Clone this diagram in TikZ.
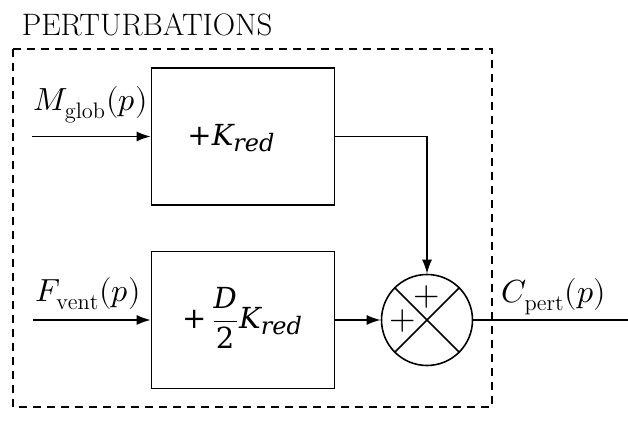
\documentclass[tikz,border=0pt]{standalone}
\usepackage{amsmath}
\usepackage{unicode-math}
\setmathfont{Latin Modern Math}
\newfontfamily\myblockfont{DejaVu Serif}
\newcommand{\myit}[1]{\text{\myblockfont\itshape #1}}
\newcommand{\myup}[1]{\text{\myblockfont\upshape #1}}
\newcommand{\mysubred}[1]{\text{\raisebox{-0.2em}{\fontsize{12}{14}\selectfont\myblockfont\itshape #1}}}
\usetikzlibrary{arrows.meta}
\begin{document}
\begin{tikzpicture}[x=0.5pt,y=-0.5pt,line width=0.8pt,
  blk/.style={draw,inner sep=0pt,minimum width=91.5pt,minimum height=68.5pt},
  sumc/.style={draw,circle,inner sep=0pt,minimum size=45.5pt},
  lbl/.style={anchor=base west,inner sep=0pt,font=\fontsize{16}{19}\selectfont},
  btxt/.style={inner sep=0pt,font=\fontsize{14.5}{17}\selectfont},
  sig/.style={-{Latex[length=7pt,width=5pt]}},
  dbox/.style={draw,dash pattern=on 4pt off 3pt,line width=0.8pt}]
\useasboundingbox (0,0) rectangle (628,421);
\node[lbl,font=\fontsize{15.5}{18}\selectfont] (title) at (21,36) {PERTURBATIONS};
\draw[dbox] (13,49) rectangle (492,407);
\node[blk] (b1) at (243,136.5) {};
\node[blk] (b2) at (243,320) {};
\node[btxt] (t1) at (231,138) {$\myup{+}\myit{K}\mysubred{red}$};
\node[btxt] (t2) at (242,318) {$\myup{+}\,\dfrac{\myit{D}}{\myup{2}}\myit{K}\mysubred{red}$};
\node[sumc] (s) at (427,320) {};
\draw (s.north west) -- (s.south east);
\draw (s.north east) -- (s.south west);
\node[inner sep=0pt,font=\fontsize{17}{20}\selectfont] (p1) at (427,297) {$+$};
\node[inner sep=0pt,font=\fontsize{17}{20}\selectfont] (p2) at (403,321) {$+$};
\coordinate (in1) at (32,136.5);
\coordinate (in2) at (33,320);
\coordinate (out) at (628,320);
\draw[sig] (in1) -- (b1.west);
\draw[sig] (in2) -- (b2.west);
\draw[sig] (b1.east) -| (s.north);
\draw[sig] (b2.east) -- (s.west);
\draw (s.east) -- (out);
\node[lbl] (m) at (33,111) {$M_{\mathrm{glob}}(p)$};
\node[lbl] (f) at (35,302) {$F_{\mathrm{vent}}(p)$};
\node[lbl] (c) at (501,303) {$C_{\mathrm{pert}}(p)$};
\end{tikzpicture}
\end{document}
